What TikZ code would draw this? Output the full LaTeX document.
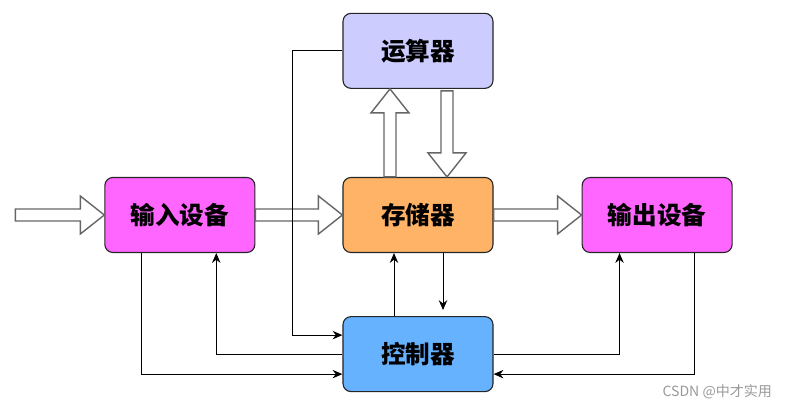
\documentclass[tikz,border=0pt]{standalone}
\usepackage{fontspec}
\newfontfamily\cjk{Noto Sans CJK SC}
\usetikzlibrary{positioning,calc,arrows.meta}
\definecolor{alupurple}{RGB}{204,204,255}
\definecolor{memorange}{RGB}{255,179,102}
\definecolor{iomagenta}{RGB}{255,102,255}
\definecolor{ctrlblue}{RGB}{102,178,255}

% hollow block arrow from #1 to #2
\newcommand{\fatarrow}[2]{%
	\draw[fat] let \p1=($(#2)-(#1)$), \n1={atan2(\y1,\x1)} in
		($(#1)+({\n1+90}:0.15)$) -- ($(#2)+({\n1+180}:0.6)+({\n1+90}:0.15)$)
		-- ($(#2)+({\n1+180}:0.6)+({\n1+90}:0.475)$) -- (#2)
		-- ($(#2)+({\n1+180}:0.6)+({\n1-90}:0.475)$)
		-- ($(#2)+({\n1+180}:0.6)+({\n1-90}:0.15)$)
		-- ($(#1)+({\n1-90}:0.15)$) -- cycle;}

\begin{document}
\begin{tikzpicture}[box/.style={draw=black!85, line width=0.8pt, rounded corners=0.2cm, minimum width=3.75cm, minimum height=1.875cm, font=\cjk\bfseries\fontsize{17.5}{20}\selectfont},
	fat/.style={draw=black!60, fill=white, line width=1pt},
	line/.style={draw, -{Stealth[length=7pt,width=6pt]}, line width=0.7pt}
]
	\useasboundingbox (-10.45,-4.85) rectangle (9.3,5.375);
	\node[box,fill=memorange] (mem) at (0,0) {存储器};
	\node[box,fill=alupurple,above=2.2cm of mem] (alu) {运算器};
	\node[box,fill=ctrlblue,below=1.575cm of mem] (ctrl) {控制器};
	\node[box,fill=iomagenta,left=2.175cm of mem] (in) {输入设备};
	\node[box,fill=iomagenta,right=2.2cm of mem] (out) {输出设备};
	\node[anchor=east, text=black!40, font=\cjk\fontsize{10}{12}\selectfont] (mark) at (8.975,-4.425) {CSDN @中才实用};

	\coordinate (src) at ([xshift=-2.225cm]in.west);
	\coordinate (upa) at ([xshift=-0.7cm]mem.north);
	\coordinate (upb) at ([xshift=-0.7cm]alu.south);
	\coordinate (dna) at ([xshift=0.725cm,yshift=-0.05cm]alu.south);
	\coordinate (dnb) at ([xshift=0.725cm]mem.north);
	\fatarrow{src}{in.west}
	\fatarrow{in.east}{mem.west}
	\fatarrow{mem.east}{out.west}
	\fatarrow{upa}{upb}
	\fatarrow{dna}{dnb}

	\draw[line] (alu.west) -- ++(-1.25,0) |- ([yshift=0.475cm]ctrl.west);
	\draw[line] ([xshift=-0.96cm]in.south) |- ([yshift=-0.5cm]ctrl.west);
	\draw[line] (ctrl.west) -| ([xshift=0.91cm]in.south);
	\draw[line] ([xshift=-0.6cm]ctrl.north) -- ([xshift=-0.6cm]mem.south);
	\draw[line] ([xshift=0.625cm]mem.south) -- ([xshift=0.625cm,yshift=0.15cm]ctrl.north);
	\draw[line] (ctrl.east) -| ([xshift=-0.94cm]out.south);
	\draw[line] ([xshift=0.94cm]out.south) |- ([yshift=-0.5cm]ctrl.east);
\end{tikzpicture}
\end{document}
